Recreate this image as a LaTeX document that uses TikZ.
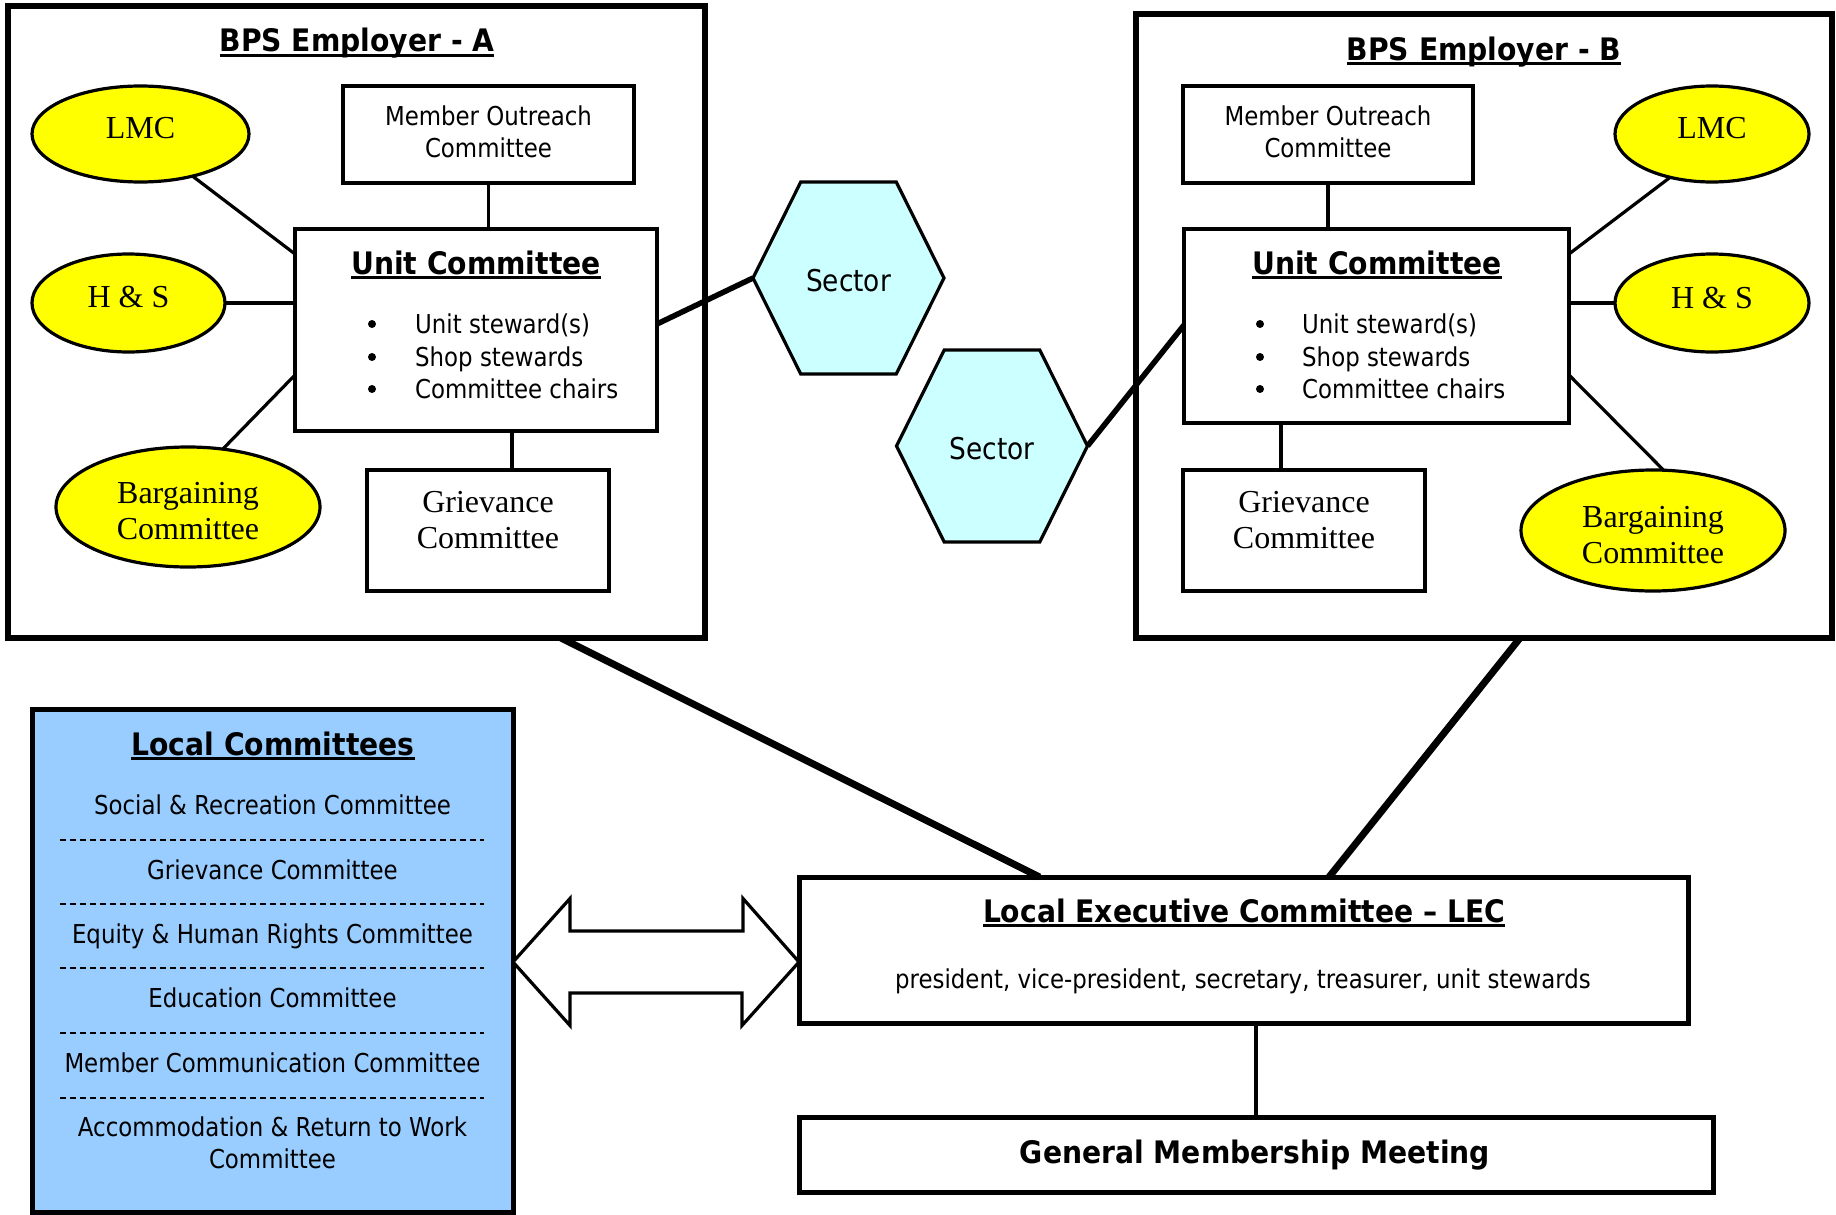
\documentclass[tikz,border=0pt]{standalone}
\usepackage{fontspec}
\setmainfont{Liberation Serif}
\newfontfamily\tah[FakeStretch=0.88,BoldFeatures={FakeStretch=0.91}]{DejaVu Sans}
\usetikzlibrary{shapes.geometric,calc}
\definecolor{ovalyellow}{RGB}{255,255,0}
\definecolor{hexcyan}{RGB}{204,255,255}
\definecolor{lcblue}{RGB}{153,204,255}
\newcommand{\myul}[1]{\setbox0=\hbox{#1}\rlap{\rule[-5pt]{\wd0}{2.6pt}}\box0}
\newcommand{\upby}[2]{\raisebox{#1}[\height][\depth]{#2}}
\tikzset{
  empbox/.style={draw, line width=5.5pt, inner sep=0pt, outer sep=0pt},
  lcbox/.style={draw, line width=5pt, inner sep=0pt, outer sep=0pt},
  cbox/.style={draw, line width=3.2pt, fill=white, inner sep=0pt, outer sep=0pt},
  oval/.style={ellipse, draw, line width=3.2pt, fill=ovalyellow, inner sep=0pt, outer sep=0pt, align=center, font=\fontsize{32}{36}\selectfont},
  seriftext/.style={align=center, inner sep=0pt, font=\fontsize{32}{36}\selectfont},
  sanstext/.style={align=center, inner sep=0pt, font=\tah\fontsize{26}{32}\selectfont},
  boldtext/.style={inner sep=0pt, font=\tah\bfseries\fontsize{31}{36}\selectfont},
  sectortext/.style={inner sep=0pt, font=\tah\fontsize{30}{36}\selectfont},
  bulletdot/.style={circle, fill=black, inner sep=0pt, minimum size=8pt},
  conn/.style={line width=3.2pt},
  sectorconn/.style={line width=5.5pt},
  heavyconn/.style={line width=7pt},
  hexa/.style={draw, line width=3.2pt, fill=hexcyan, line join=miter},
  sepline/.style={line width=2.2pt, dash pattern=on 6pt off 4pt},
  dblarrow/.style={draw, line width=3.2pt, fill=white, line join=miter}
}
\begin{document}
\begin{tikzpicture}[x=1pt,y=-1pt]
\useasboundingbox (0,0) rectangle (1836,1215);
\fill[white] (0,0) rectangle (1836,1215);

% ---------- Employer boxes ----------
\node[empbox, minimum width=697pt, minimum height=632pt] (empA) at (356.5,322) {};
\node[empbox, minimum width=696pt, minimum height=624pt] (empB) at (1484,326) {};
\node[boldtext, anchor=base] (titA) at (357,52) {\myul{BPS Employer - A}};
\node[boldtext, anchor=base] (titB) at (1484,60) {\myul{BPS Employer - B}};

% ---------- LEC, GMM ----------
\node[lcbox, fill=white, minimum width=889pt, minimum height=146pt] (lec) at (1243.5,950) {};
\node[lcbox, fill=white, minimum width=914pt, minimum height=75pt] (gmm) at (1256,1154.5) {};
\draw[heavyconn] ([xshift=204.5pt]empA.south) -- ([xshift=-204pt]lec.north);
\draw[heavyconn] ([xshift=36pt]empB.south) -- ([xshift=85.5pt]lec.north);
\draw[conn] (gmm.north) -- (gmm.north |- lec.south);
\node[boldtext, anchor=base] (lecT) at (1244,922) {\myul{Local Executive Committee – LEC}};
\node[sanstext, anchor=base] (lecS) at (1243,988) {president, vice-president, secretary, treasurer, unit stewards};
\node[boldtext, anchor=base] (gmmT) at (1255,1163) {General Membership Meeting};

% ---------- Employer A contents ----------
\node[cbox, minimum width=291pt, minimum height=97pt] (moA) at (488.5,134.5) {};
\node[sanstext] (moAt) at (488.5,132) {Member Outreach\\Committee};
\node[cbox, minimum width=362pt, minimum height=202pt] (unitA) at (476,330) {};
\node[cbox, minimum width=242pt, minimum height=121pt] (grA) at (488,530.5) {};
\node[seriftext] (grAt) at (488,520) {Grievance\\Committee};
\node[oval, minimum width=217pt, minimum height=96pt] (lmcA) at (140.5,134) {\upby{6pt}{LMC}};
\node[oval, minimum width=193pt, minimum height=98pt] (hsA) at (128.5,303) {\upby{6pt}{H \& S}};
\node[oval, minimum width=264pt, minimum height=120pt] (bargA) at (188,507) {};
\node[seriftext] (bargAt) at (188,511) {Bargaining\\Committee};

\draw[conn] (moA.south) -- (moA.south |- unitA.north);
\draw[conn] ([xshift=24pt]grA.north) -- ([xshift=24pt]grA.north |- unitA.south);
\draw[conn] (lmcA.-39) -- ([yshift=-25pt]unitA.north west);
\draw[conn] (hsA.east) -- (hsA.east -| unitA.west);
\draw[conn] (bargA.59) -- ([yshift=-146pt]unitA.north west);

\node[boldtext, anchor=base] (unitAT) at (476,274) {\myul{Unit Committee}};
\node[bulletdot] (bA1) at (372,324) {};
\node[bulletdot] (bA2) at (372,357) {};
\node[bulletdot] (bA3) at (372,389) {};
\node[sanstext, anchor=base west] (uA1) at (415,333) {Unit steward(s)};
\node[sanstext, anchor=base west] (uA2) at (415,366) {Shop stewards};
\node[sanstext, anchor=base west] (uA3) at (415,398) {Committee chairs};

% ---------- Employer B contents ----------
\node[cbox, minimum width=290pt, minimum height=97pt] (moB) at (1328,134.5) {};
\node[sanstext] (moBt) at (1328,132) {Member Outreach\\Committee};
\node[cbox, minimum width=385pt, minimum height=194pt] (unitB) at (1376.5,326) {};
\node[cbox, minimum width=242pt, minimum height=121pt] (grB) at (1304,530.5) {};
\node[seriftext] (grBt) at (1304,520) {Grievance\\Committee};
\node[oval, minimum width=194pt, minimum height=96pt] (lmcB) at (1712,134) {\upby{6pt}{LMC}};
\node[oval, minimum width=194pt, minimum height=98pt] (hsB) at (1712,303) {\upby{5pt}{H \& S}};
\node[oval, minimum width=264pt, minimum height=121pt] (bargB) at (1653,530.5) {};
\node[seriftext] (bargBt) at (1653,535) {Bargaining\\Committee};

\draw[conn] (moB.south) -- (moB.south |- unitB.north);
\draw[conn] ([xshift=-23pt]grB.north) -- ([xshift=-23pt]grB.north |- unitB.south);
\draw[conn] (lmcB.-134) -- ([yshift=-25pt]unitB.north east);
\draw[conn] (hsB.west) -- (hsB.west -| unitB.east);
\draw[conn] (bargB.80) -- ([yshift=-146pt]unitB.north east);

\node[boldtext, anchor=base] (unitBT) at (1377,274) {\myul{Unit Committee}};
\node[bulletdot] (bB1) at (1260,324) {};
\node[bulletdot] (bB2) at (1260,357) {};
\node[bulletdot] (bB3) at (1260,389) {};
\node[sanstext, anchor=base west] (uB1) at (1302,333) {Unit steward(s)};
\node[sanstext, anchor=base west] (uB2) at (1302,366) {Shop stewards};
\node[sanstext, anchor=base west] (uB3) at (1302,398) {Committee chairs};

% ---------- Sectors ----------
\coordinate (s1) at (848.5,278);
\coordinate (s2) at (992,446);
\draw[hexa] ($(s1)+(-95.5,0)$) -- ++(47.75,-96) -- ++(95.5,0) -- ++(47.75,96) -- ++(-47.75,96) -- ++(-95.5,0) -- cycle;
\draw[hexa] ($(s2)+(-95.5,0)$) -- ++(47.75,-96) -- ++(95.5,0) -- ++(47.75,96) -- ++(-47.75,96) -- ++(-95.5,0) -- cycle;
\coordinate (s1w) at ($(s1)+(-95.5,0)$);
\coordinate (s2e) at ($(s2)+(95.5,0)$);
\node[sectortext] (sec1) at ($(s1)+(0,2.5)$) {Sector};
\node[sectortext] (sec2) at ($(s2)+(0,2.5)$) {Sector};
\draw[sectorconn] ([yshift=-95pt]unitA.north east) -- (s1w);
\draw[sectorconn] (s2e) -- ([yshift=-96pt]unitB.north west);

% ---------- Local Committees ----------
\node[lcbox, fill=lcblue, minimum width=481pt, minimum height=503pt] (locC) at (272.5,961) {};
\node[boldtext, anchor=base] (locT) at (273,755) {\myul{Local Committees}};
\node[sanstext, anchor=base] (lc1) at (272.5,814) {Social \& Recreation Committee};
\node[sanstext, anchor=base] (lc2) at (272.5,879) {Grievance Committee};
\node[sanstext, anchor=base] (lc3) at (272.5,943) {Equity \& Human Rights Committee};
\node[sanstext, anchor=base] (lc4) at (272.5,1007) {Education Committee};
\node[sanstext, anchor=base] (lc5) at (272.5,1072) {Member Communication Committee};
\node[sanstext, anchor=base] (lc6) at (272.5,1136) {Accommodation \& Return to Work};
\node[sanstext, anchor=base] (lc7) at (272.5,1168) {Committee};
\foreach \yy in {840,904,968,1033,1098} \draw[sepline] (60,\yy) -- (484,\yy);

% ---------- Double arrow ----------
\coordinate (am) at (657,962);
\draw[dblarrow] (locC.east |- am) -- ++(57,-63.5) -- ++(0,32.5) -- ++(173,0) -- ++(0,-32.5) -- (lec.west |- am) -- ++(-57,63.5) -- ++(0,-32.5) -- ++(-172,0) -- ++(0,32.5) -- cycle;
\end{tikzpicture}
\end{document}
